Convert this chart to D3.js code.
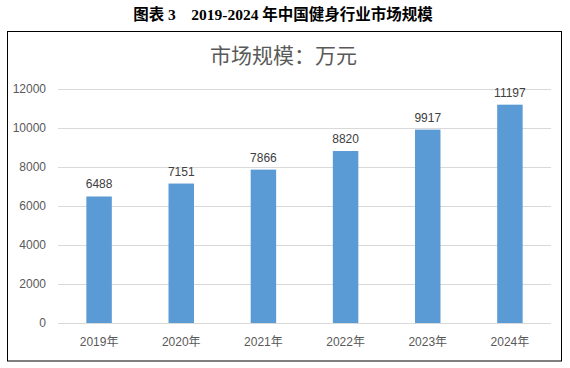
<!DOCTYPE html>
<html><head><meta charset="utf-8">
<script src="https://cdn.jsdelivr.net/npm/d3@7"></script>
<style>body{margin:0;background:#fff}svg{display:block}</style>
</head><body><svg id="c" width="570" height="368"></svg>
<script>
const categories = ["2019年","2020年","2021年","2022年","2023年","2024年"];
const values = [6488, 7151, 7866, 8820, 9917, 11197];
const yTicks = [0, 2000, 4000, 6000, 8000, 10000, 12000];
const figTitle = "图表 3\u00a0\u00a0\u00a0\u00a02019-2024 年中国健身行业市场规模";
const chartTitle = "市场规模：万元";

const svg = d3.select("#c");
const m = {left: 58, right: 551, top: 89, bottom: 323};
const x = d3.scaleBand().domain(categories).range([m.left, m.right]).paddingInner(0.69).paddingOuter(0.345);
const y = d3.scaleLinear().domain([0, 12000]).range([m.bottom, m.top]);

svg.append("text").attr("x", 283).attr("y", 20).attr("text-anchor", "middle")
  .attr("font-family", "'Liberation Serif','Noto Sans CJK SC',serif").attr("font-weight", "bold")
  .attr("font-size", 15.5).attr("fill", "#000").text(figTitle);

svg.append("rect").attr("x", 7.5).attr("y", 31.5).attr("width", 554).attr("height", 329.5)
  .attr("fill", "#fff").attr("stroke", "#000").attr("stroke-width", 1);

svg.append("text").attr("x", 283.5).attr("y", 63).attr("text-anchor", "middle")
  .attr("font-family", "'Noto Sans CJK SC',sans-serif").attr("font-size", 21)
  .attr("fill", "#595959").text(chartTitle);

const yAxis = d3.axisLeft(y).tickValues(yTicks).tickFormat(d3.format("d"))
  .tickSize(-(m.right - m.left)).tickPadding(12);
const gy = svg.append("g").attr("transform", `translate(${m.left},0)`).call(yAxis);
gy.select(".domain").remove();
gy.selectAll(".tick line").attr("stroke", "#d9d9d9");
gy.selectAll(".tick text").attr("fill", "#595959").attr("font-size", 12)
  .attr("font-family", "'Liberation Sans','Noto Sans CJK SC',sans-serif");

const xAxis = d3.axisBottom(x).tickSize(0).tickPadding(14);
const gx = svg.append("g").attr("transform", `translate(0,${m.bottom})`).call(xAxis);
gx.select(".domain").remove();
gx.selectAll(".tick text").attr("fill", "#595959").attr("font-size", 12)
  .attr("font-family", "'Liberation Sans','Noto Sans CJK SC',sans-serif");

svg.append("line").attr("x1", m.left).attr("x2", m.right).attr("y1", m.bottom + 0.5).attr("y2", m.bottom + 0.5)
  .attr("stroke", "#d9d9d9");

svg.selectAll("rect.bar").data(values).enter().append("rect").attr("class", "bar")
  .attr("x", (d, i) => x(categories[i])).attr("width", x.bandwidth())
  .attr("y", d => y(d)).attr("height", d => y(0) - y(d)).attr("fill", "#5b9bd5");

svg.selectAll("text.lbl").data(values).enter().append("text").attr("class", "lbl")
  .attr("x", (d, i) => x(categories[i]) + x.bandwidth() / 2).attr("y", d => y(d) - 8)
  .attr("text-anchor", "middle").attr("font-size", 12).attr("fill", "#404040")
  .attr("font-family", "'Liberation Sans',sans-serif").text(d => d);
</script></body></html>
